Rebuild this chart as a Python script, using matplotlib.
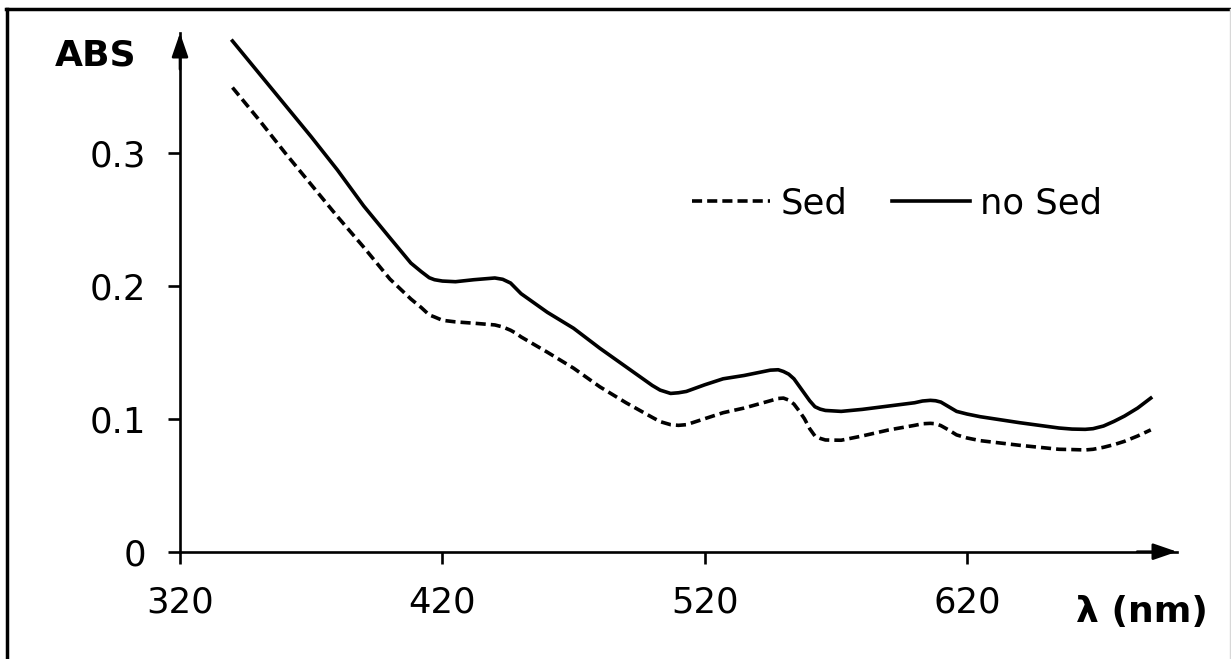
import matplotlib
matplotlib.use("Agg")
import matplotlib.pyplot as plt
from matplotlib.lines import Line2D

# ---- data ----
wavelength = [340, 350, 360, 370, 380, 390, 400, 408, 412, 415, 417, 420, 425, 432,
              440, 443, 446, 448, 450, 460, 470, 480, 490, 500, 503, 507, 510, 513,
              520, 527, 535, 545, 548, 550, 552, 554, 556, 558, 560, 562, 564, 566,
              572, 580, 590, 600, 603, 606, 608, 610, 613, 616, 620, 625, 640, 655,
              660, 665, 668, 672, 676, 680, 685, 690]
abs_no_sed = [0.384, 0.360, 0.336, 0.312, 0.287, 0.260, 0.236, 0.217, 0.2105, 0.206,
              0.2045, 0.2035, 0.2030, 0.2045, 0.2058, 0.2048, 0.202, 0.198, 0.194,
              0.180, 0.168, 0.153, 0.139, 0.125, 0.1215, 0.119, 0.1195, 0.1205,
              0.1255, 0.130, 0.1325, 0.1365, 0.1368, 0.1355, 0.1335, 0.130, 0.1245,
              0.119, 0.1135, 0.109, 0.1072, 0.1062, 0.1055, 0.107, 0.1095, 0.112,
              0.1133, 0.1138, 0.1135, 0.1125, 0.109, 0.1055, 0.1035, 0.1015, 0.097,
              0.093, 0.0922, 0.092, 0.0925, 0.0945, 0.098, 0.102, 0.108, 0.1155]
abs_sed = [0.349, 0.325, 0.300, 0.276, 0.252, 0.229, 0.205, 0.190, 0.1835, 0.178,
           0.1765, 0.174, 0.1728, 0.1718, 0.1705, 0.169, 0.1665, 0.1643, 0.1615,
           0.150, 0.138, 0.124, 0.112, 0.101, 0.0978, 0.0955, 0.0950, 0.0955,
           0.100, 0.1045, 0.108, 0.1135, 0.1152, 0.1155, 0.114, 0.111, 0.1058,
           0.100, 0.0925, 0.087, 0.0852, 0.084, 0.0838, 0.087, 0.0915, 0.095,
           0.0962, 0.0965, 0.0962, 0.0948, 0.0915, 0.0878, 0.0855, 0.0835, 0.080,
           0.077, 0.0768, 0.0765, 0.077, 0.0785, 0.0805, 0.083, 0.087, 0.0916]
x_ticks = [320, 420, 520, 620]
y_ticks = [0, 0.1, 0.2, 0.3]
y_tick_labels = ["0", "0.1", "0.2", "0.3"]
series_labels = ["Sed", "no Sed"]

W, H = 1231, 659
fig = plt.figure(figsize=(W / 100, H / 100), dpi=100)
fig.patch.set_facecolor("white")

# axes placement in pixels
x0, x1 = 180, 1177
y0, y1 = 551.7, 33
ax = fig.add_axes([x0 / W, 1 - y0 / H, (x1 - x0) / W, (y0 - y1) / H])
ax.set_xlim(320, 700)
ax.set_ylim(0, 0.39)

lw = 2.6
ax.plot(wavelength, abs_sed, color="black", lw=lw, ls=(0, (2.8, 1.4)),
        label=series_labels[0], dash_capstyle="butt", dash_joinstyle="round")
ax.plot(wavelength, abs_no_sed, color="black", lw=lw, ls="-",
        label=series_labels[1], solid_joinstyle="round")

for s in ["top", "right"]:
    ax.spines[s].set_visible(False)
for s in ["left", "bottom"]:
    ax.spines[s].set_linewidth(1.9)

# arrow heads on axes
arrow_style = "-|>,head_length=1.45,head_width=0.5"
ax.annotate("", xy=(1.0, 0), xytext=(0.96, 0), xycoords="axes fraction",
            arrowprops=dict(arrowstyle=arrow_style, color="black", lw=1.9,
                            shrinkA=0, shrinkB=0),
            annotation_clip=False)
ax.annotate("", xy=(0, 1.0), xytext=(0, 0.93), xycoords="axes fraction",
            arrowprops=dict(arrowstyle=arrow_style, color="black", lw=1.9,
                            shrinkA=0, shrinkB=0),
            annotation_clip=False)

ax.set_xticks(x_ticks)
ax.set_xticklabels([str(v) for v in x_ticks])
ax.set_yticks(y_ticks)
ax.set_yticklabels(y_tick_labels)
ax.tick_params(axis="both", direction="out", length=8.5, width=1.9,
               labelsize=25.5, colors="black")
ax.tick_params(axis="x", pad=16)
ax.tick_params(axis="y", pad=16)

# axis titles
fig.text(96 / W, 1 - 56 / H, "ABS", fontsize=26, fontweight="bold",
         ha="center", va="center")
fig.text(1142 / W, 1 - 612 / H, "λ (nm)", fontsize=26, fontweight="bold",
         ha="center", va="center")

# legend
leg = ax.legend(loc="center left", bbox_to_anchor=(692 / W, 1 - 203 / H),
                bbox_transform=fig.transFigure, ncol=2, frameon=False,
                fontsize=25.5, handlelength=2.2, handletextpad=0.3,
                columnspacing=1.25, borderpad=0, borderaxespad=0)

# partial frame around the figure (left & top dark, right light)
fig.add_artist(Line2D([7 / W, 7 / W], [0, 1 - 9 / H], transform=fig.transFigure,
                      color="black", lw=2.5))
fig.add_artist(Line2D([6 / W, 1], [1 - 9 / H, 1 - 9 / H], transform=fig.transFigure,
                      color="black", lw=2.5))
fig.add_artist(Line2D([1229.5 / W, 1229.5 / W], [0, 1 - 9 / H],
                      transform=fig.transFigure, color="#d8d8d8", lw=1.0))

fig.savefig("out.png", dpi=100, facecolor="white")
